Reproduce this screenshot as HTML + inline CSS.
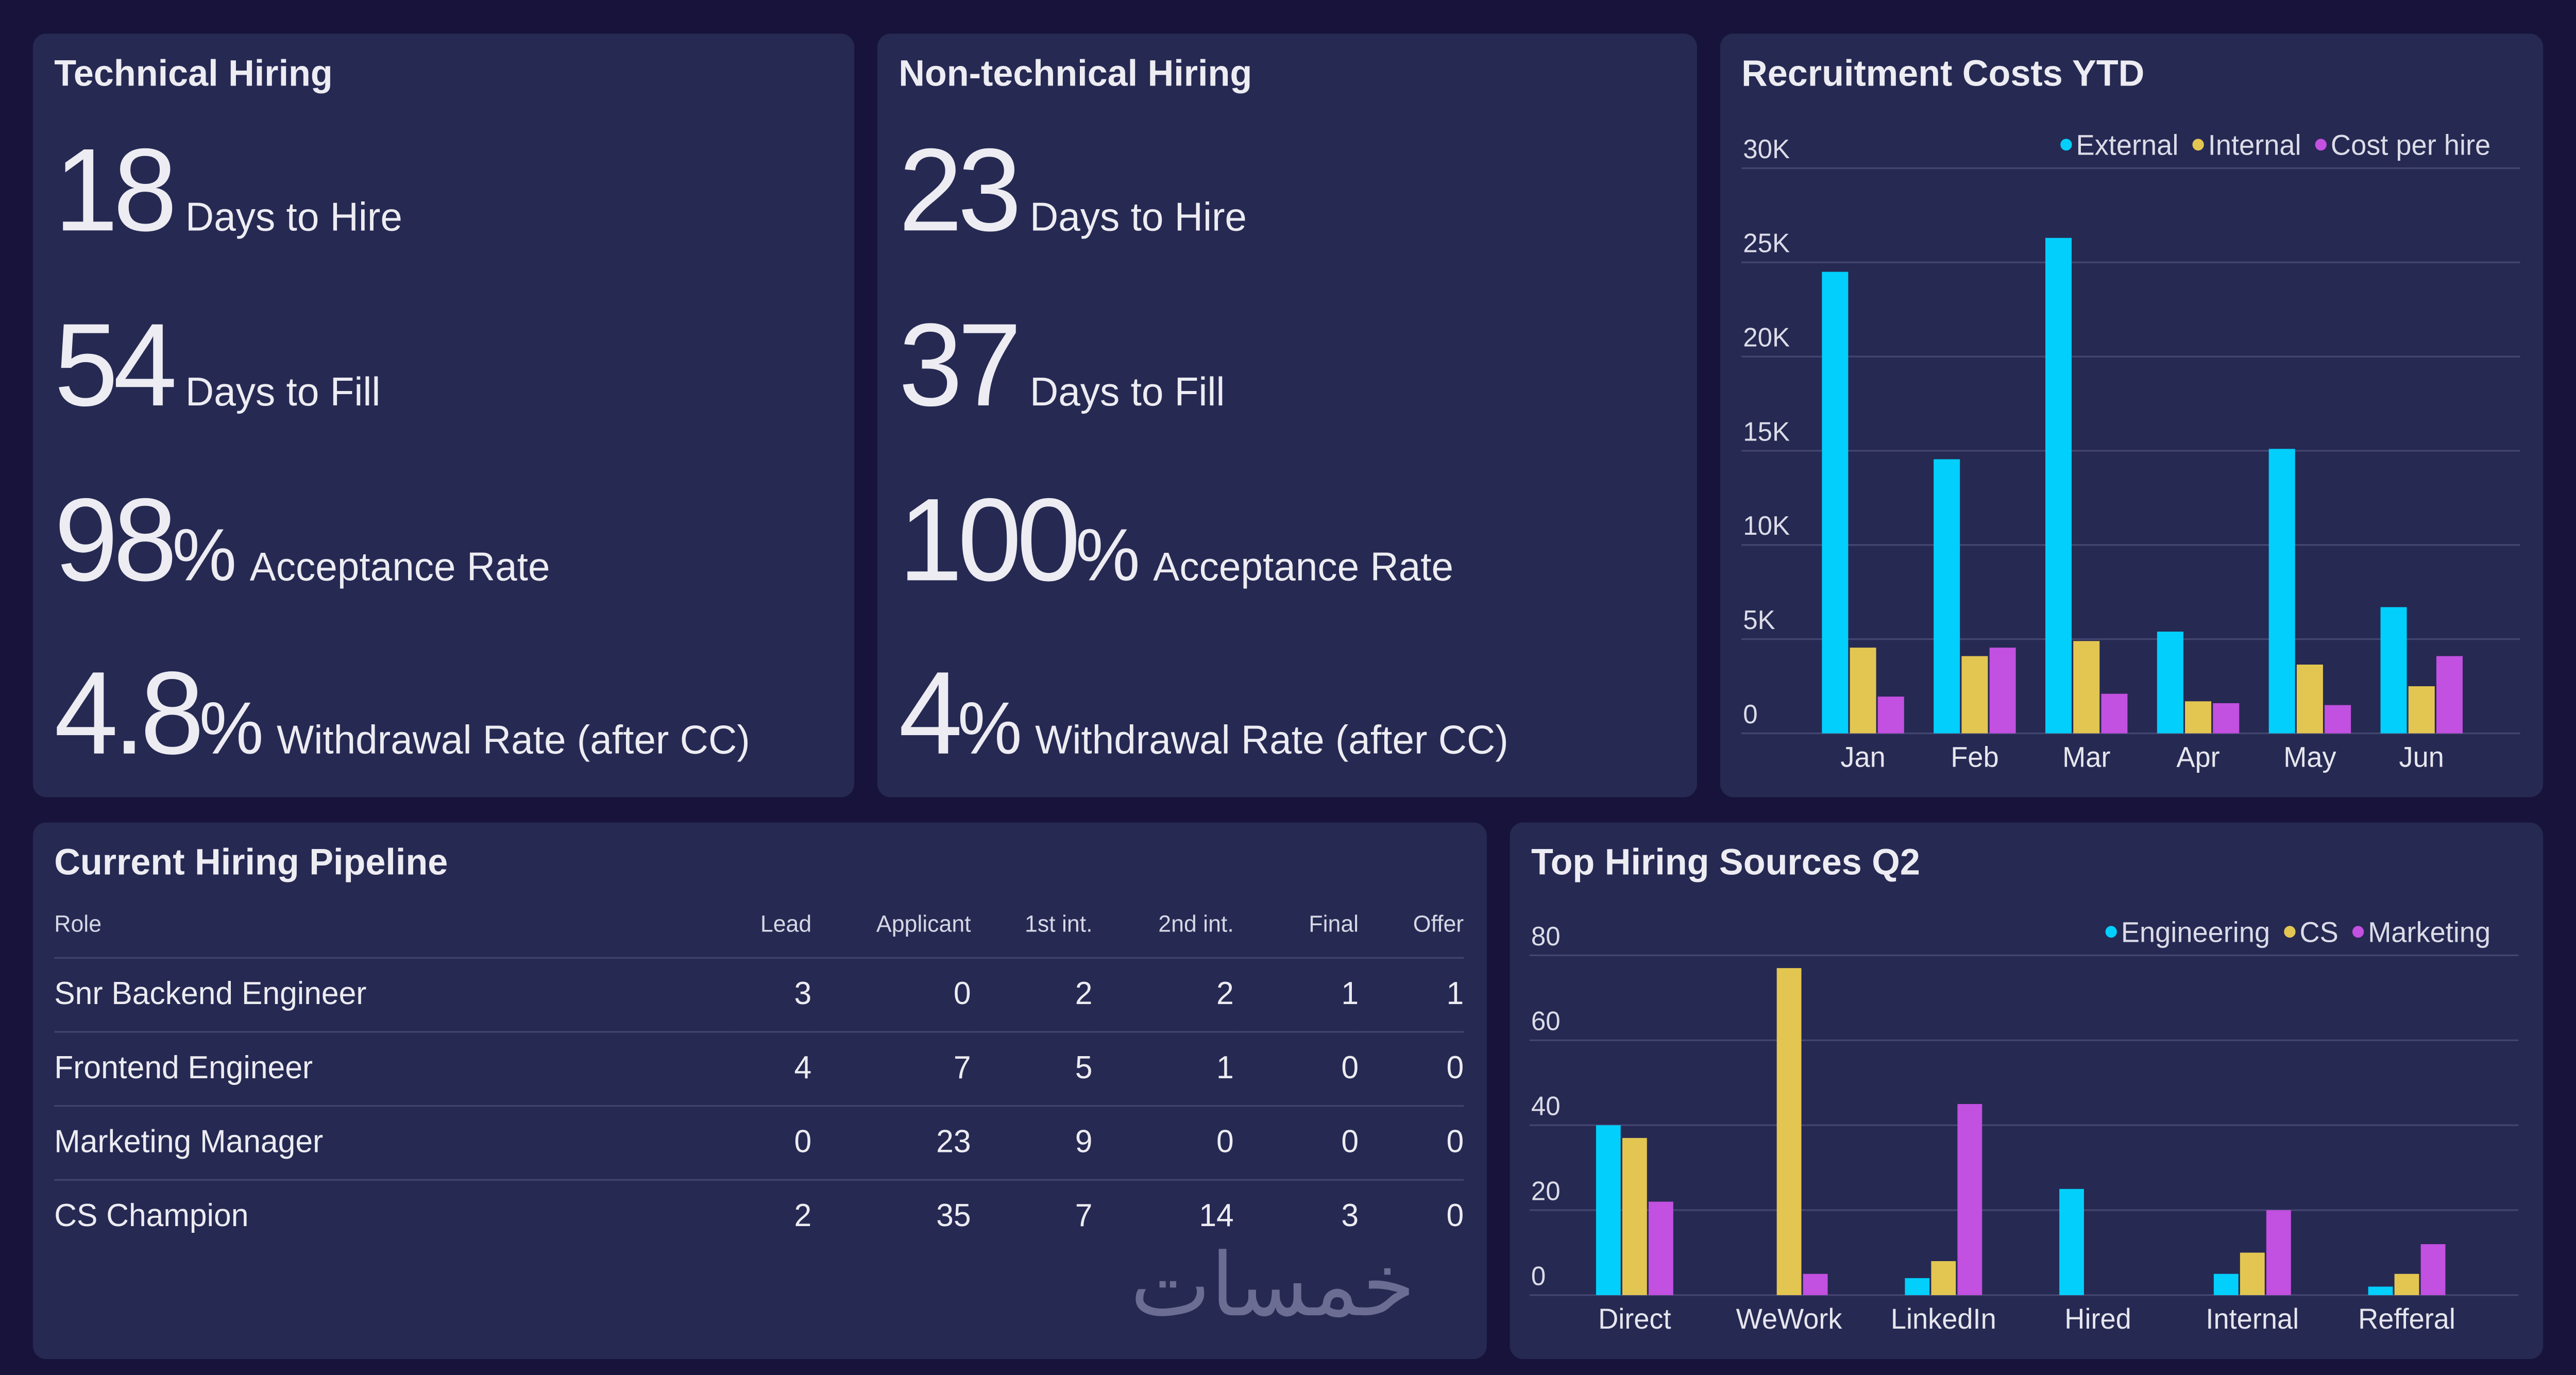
<!DOCTYPE html>
<html><head><meta charset="utf-8">
<style>
html,body{margin:0;padding:0;background:#17133a;width:100vw;height:100vh;overflow:hidden}
#wrap{position:absolute;left:0;top:0;width:1568px;height:817.5px;transform:scale(3.26531);transform-origin:0 0;font-family:"Liberation Sans","DejaVu Sans",sans-serif;color:#e6e6ee}
.panel{position:absolute;background:#262952;border-radius:8px}
.title{position:absolute;left:13px;top:11px;font-size:22px;font-weight:bold;color:#ececf2}
.kpi{position:absolute;left:13px;white-space:nowrap}
.big{font-size:70px;letter-spacing:-3px;color:#ececf2}
.pct{font-size:44px;color:#ececf2}
.lbl{font-size:24px;color:#ececf2;margin-left:8px}
table{position:absolute;left:13px;top:40px;border-collapse:collapse;width:858px;table-layout:fixed}
th{font-weight:normal;font-size:14px;color:#d6d7e4;text-align:right;height:40px;border-bottom:1px solid #41446e;padding:0}
td{font-size:19px;text-align:right;height:43px;border-bottom:1px solid #41446e;padding:0;color:#ececf2}
tr:last-child td{border-bottom:none}
th:first-child,td:first-child{text-align:left}
</style></head><body>
<div id="wrap">

<div class="panel" style="left:20px;top:20px;width:500px;height:454px">
 <div class="title">Technical Hiring</div>
 <div class="kpi" style="top:53px"><span class="big">18</span><span class="lbl">Days to Hire</span></div>
 <div class="kpi" style="top:157px"><span class="big">54</span><span class="lbl">Days to Fill</span></div>
 <div class="kpi" style="top:261px"><span class="big">98</span><span class="pct">%</span><span class="lbl">Acceptance Rate</span></div>
 <div class="kpi" style="top:364px"><span class="big">4.8</span><span class="pct">%</span><span class="lbl">Withdrawal Rate (after CC)</span></div>
</div>

<div class="panel" style="left:534px;top:20px;width:499px;height:454px">
 <div class="title">Non-technical Hiring</div>
 <div class="kpi" style="top:53px"><span class="big">23</span><span class="lbl">Days to Hire</span></div>
 <div class="kpi" style="top:157px"><span class="big">37</span><span class="lbl">Days to Fill</span></div>
 <div class="kpi" style="top:261px"><span class="big">100</span><span class="pct">%</span><span class="lbl">Acceptance Rate</span></div>
 <div class="kpi" style="top:364px"><span class="big">4</span><span class="pct">%</span><span class="lbl">Withdrawal Rate (after CC)</span></div>
</div>

<div class="panel" style="left:1047px;top:20px;width:501px;height:454px">
 <div class="title">Recruitment Costs YTD</div>
 <svg id="costs" width="501" height="454" style="position:absolute;left:0;top:0"></svg>
</div>

<div class="panel" style="left:20px;top:489px;width:885px;height:319px">
 <div class="title">Current Hiring Pipeline</div>
 <table>
  <colgroup><col style="width:411px"><col style="width:50px"><col style="width:97px"><col style="width:74px"><col style="width:86px"><col style="width:76px"><col style="width:64px"></colgroup>
  <tr><th>Role</th><th>Lead</th><th>Applicant</th><th>1st int.</th><th>2nd int.</th><th>Final</th><th>Offer</th></tr>
  <tr><td>Snr Backend Engineer</td><td>3</td><td>0</td><td>2</td><td>2</td><td>1</td><td>1</td></tr>
  <tr><td>Frontend Engineer</td><td>4</td><td>7</td><td>5</td><td>1</td><td>0</td><td>0</td></tr>
  <tr><td>Marketing Manager</td><td>0</td><td>23</td><td>9</td><td>0</td><td>0</td><td>0</td></tr>
  <tr><td>CS Champion</td><td>2</td><td>35</td><td>7</td><td>14</td><td>3</td><td>0</td></tr>
 </table>
 <div style="position:absolute;left:668px;top:246px;font-size:52px;color:#6b6e92;font-family:'DejaVu Sans',sans-serif;line-height:60px">خمسات</div>
</div>

<div class="panel" style="left:919px;top:489px;width:629px;height:319px">
 <div class="title">Top Hiring Sources Q2</div>
 <svg id="sources" width="629" height="319" style="position:absolute;left:0;top:0"></svg>
</div>
</div>

<script>
const costMonths=["Jan","Feb","Mar","Apr","May","Jun"];
const costExternal=[24500,14550,26300,5400,15100,6700];
const costInternal=[4550,4100,4900,1700,3650,2500];
const costPerHire=[1950,4550,2100,1600,1500,4100];
const costTicks=[0,5000,10000,15000,20000,25000,30000];
const costTickLabels=["0","5K","10K","15K","20K","25K","30K"];

const srcCats=["Direct","WeWork","LinkedIn","Hired","Internal","Refferal"];
const srcEngineering=[40,0,4,25,5,2];
const srcCS=[37,77,8,0,10,5];
const srcMarketing=[22,5,45,0,20,12];
const srcTicks=[0,20,40,60,80];
const srcTickLabels=["0","20","40","60","80"];

(function(){
  const w=document.getElementById('wrap');
  const sx=window.innerWidth/1568, sy=window.innerHeight/817.5;
  w.style.transform='scale('+sx+','+sy+')';
})();

const COLORS=["#02cffc","#e3c651","#c250e0"];
const NS="http://www.w3.org/2000/svg";
function mk(svg,tag,attrs,text){const e=document.createElementNS(NS,tag);for(const k in attrs)e.setAttribute(k,attrs[k]);if(text!==undefined)e.textContent=text;svg.appendChild(e);return e;}

function drawChart(svg,o){
  const y=v=>o.y0-(v/o.max)*(o.y0-o.yTop);
  const xc=i=>o.xStart+o.band*(i+0.5);
  o.ticks.forEach((t,i)=>{
    const ln=mk(svg,'line',{x1:o.gx0,x2:o.gx1,y1:y(t),y2:y(t),stroke:'#434670','stroke-width':1});
    
    
    const tx=mk(svg,'text',{x:o.gx0+1,y:y(t)-6,fill:'#dcdce8','font-size':16},o.tickLabels[i]);
    
    
  });
  o.series.forEach((s,si)=>{
    s.forEach((v,i)=>{
      const x=xc(i)+(si-1)*(o.bw+1)-o.bw/2;
      const r=mk(svg,'rect',{x:x,y:y(v),width:o.bw,height:Math.max(0,o.y0-y(v)),fill:COLORS[si]});
      
      
    });
  });
  o.cats.forEach((c,i)=>{
    const t=mk(svg,'text',{x:xc(i),y:o.y0+20,fill:'#e6e6ee','font-size':17,'text-anchor':'middle'},c);
    
    
  });
  let x=o.legendRight;
  for(let si=o.names.length-1;si>=0;si--){
    const t=mk(svg,'text',{x:x,y:o.legendY,fill:'#dcdce8','font-size':17,'text-anchor':'end'},o.names[si]);
    
    
    const w=t.getComputedTextLength();
    const c=mk(svg,'circle',{cx:x-w-6,cy:o.legendY-6,r:3.5,fill:COLORS[si]});
    
    
    x=x-w-18;
  }
}
drawChart(document.getElementById('costs'),{
  y0:416,yTop:80,max:30000,gx0:13,gx1:487,xStart:53,band:68,bw:16,
  ticks:costTicks,tickLabels:costTickLabels,cats:costMonths,
  series:[costExternal,costInternal,costPerHire],names:["External","Internal","Cost per hire"],
  legendRight:469,legendY:72});
drawChart(document.getElementById('sources'),{
  y0:281,yTop:79,max:80,gx0:12,gx1:614,xStart:29,band:94,bw:15,
  ticks:srcTicks,tickLabels:srcTickLabels,cats:srcCats,
  series:[srcEngineering,srcCS,srcMarketing],names:["Engineering","CS","Marketing"],
  legendRight:597,legendY:71});
</script>
</body></html>
